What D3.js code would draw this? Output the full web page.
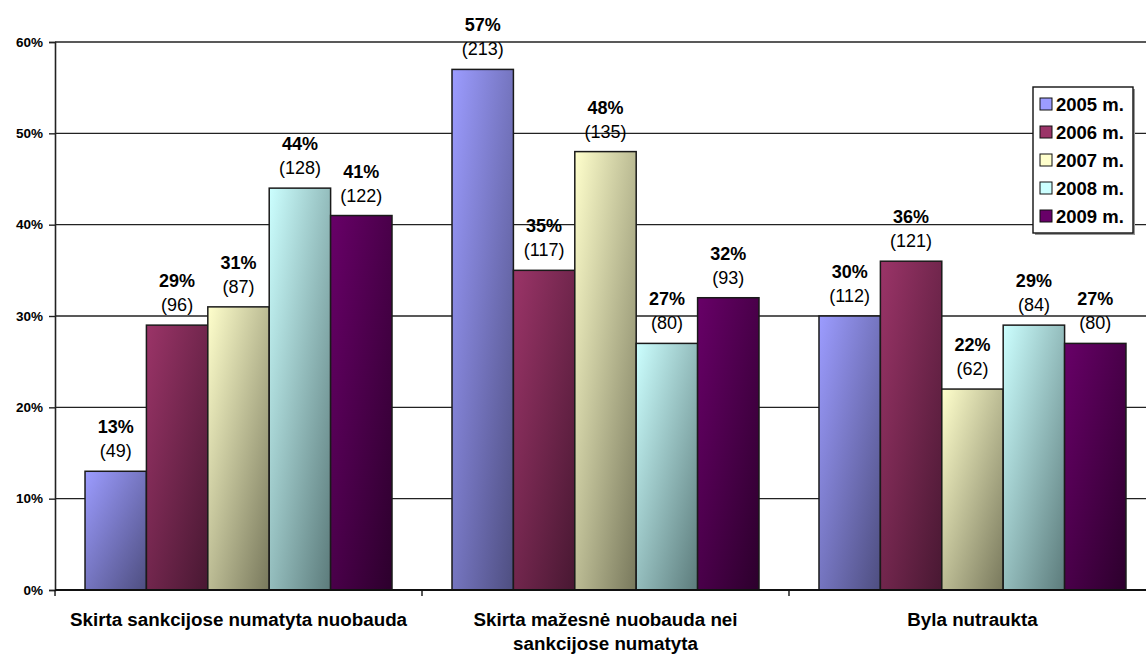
<!DOCTYPE html>
<html>
<head>
<meta charset="utf-8">
<script src="https://cdn.jsdelivr.net/npm/d3@7"></script>
<style>
  body { margin: 0; background: #fff; }
  text { font-family: Arial, "Liberation Sans", sans-serif; fill: #000; }
</style>
</head>
<body>
<div id="chart"></div>
<script>
// Data
let categories = [
  ["Skirta sankcijose numatyta nuobauda"],
  ["Skirta mažesnė nuobauda nei", "sankcijose numatyta"],
  ["Byla nutraukta"]
];
let years = ["2005 m.", "2006 m.", "2007 m.", "2008 m.", "2009 m."];
let percents = [
  [13, 29, 31, 44, 41],
  [57, 35, 48, 27, 32],
  [30, 36, 22, 29, 27]
];
let counts = [
  [49, 96, 87, 128, 122],
  [213, 117, 135, 80, 93],
  [112, 121, 62, 84, 80]
];
let yTicks = [0, 10, 20, 30, 40, 50, 60];

// colours: light / dark end of each gradient
let lightColors = ["#9c9cff", "#9b3468", "#ffffcc", "#ccffff", "#680068"];
let darkColors  = ["#4e4e80", "#481832", "#78785c", "#5c7b7b", "#2c002c"];

let W = 1146, H = 655;
let margin = { top: 42, left: 55, bottom: 65, right: -10 };
let plotBottom = H - margin.bottom;

let svg = d3.select("#chart").append("svg")
  .attr("width", W)
  .attr("height", H);

let defs = svg.append("defs");
years.forEach((yr, i) => {
  let g = defs.append("linearGradient")
    .attr("id", "grad" + i)
    .attr("x1", 0).attr("y1", 0).attr("x2", 1).attr("y2", 1);
  g.append("stop").attr("offset", "0%").attr("stop-color", lightColors[i]);
  g.append("stop").attr("offset", "100%").attr("stop-color", darkColors[i]);
});

// Scales
let x0 = d3.scaleBand()
  .domain(d3.range(categories.length))
  .range([margin.left, W - margin.right])
  .paddingInner(0.1635)
  .paddingOuter(0.0818);

let x1 = d3.scaleBand()
  .domain(d3.range(years.length))
  .range([0, x0.bandwidth()]);

let y = d3.scaleLinear()
  .domain([0, 60])
  .range([plotBottom, margin.top]);

// gridlines
svg.append("g")
  .selectAll("line")
  .data(yTicks.filter(d => d > 0))
  .join("line")
    .attr("x1", margin.left)
    .attr("x2", W)
    .attr("y1", d => y(d))
    .attr("y2", d => y(d))
    .attr("stroke", "#222")
    .attr("stroke-width", 1.4);

// y axis
let yAxis = d3.axisLeft(y)
  .tickValues(yTicks)
  .tickSize(6)
  .tickPadding(6)
  .tickFormat(d => d + "%");

let yAxisEl = svg.append("g")
  .attr("transform", "translate(" + margin.left + ",0)")
  .call(yAxis);
yAxisEl.select(".domain").attr("stroke", "#222").attr("stroke-width", 1.6);
yAxisEl.selectAll(".tick line").attr("stroke", "#222").attr("stroke-width", 1.4);
yAxisEl.selectAll(".tick text")
  .style("font-size", "13.5px")
  .style("font-weight", "bold")
  .attr("fill", "#111");

// bars
let groups = svg.append("g")
  .selectAll("g")
  .data(categories)
  .join("g")
  .attr("transform", (d, i) => "translate(" + x0(i) + ",0)");

groups.selectAll("rect")
  .data((d, ci) => percents[ci].map((v, si) => ({ ci, si, v })))
  .join("rect")
    .attr("x", d => x1(d.si))
    .attr("y", d => y(d.v))
    .attr("width", x1.bandwidth())
    .attr("height", d => y(0) - y(d.v))
    .attr("fill", d => "url(#grad" + d.si + ")")
    .attr("stroke", "#1a1a1a")
    .attr("stroke-width", 1.5);

// data labels
let labels = groups.selectAll("g.lbl")
  .data((d, ci) => percents[ci].map((v, si) => ({ ci, si, v, n: counts[ci][si] })))
  .join("g")
  .attr("class", "lbl")
  .attr("transform", d => "translate(" + (x1(d.si) + x1.bandwidth() / 2) + "," + y(d.v) + ")");

labels.append("text")
  .attr("text-anchor", "middle")
  .attr("y", -38)
  .style("font-size", "18px")
  .style("font-weight", "bold")
  .text(d => d.v + "%");

labels.append("text")
  .attr("text-anchor", "middle")
  .attr("y", -14)
  .style("font-size", "18px")
  .text(d => "(" + d.n + ")");

// x axis line
svg.append("line")
  .attr("x1", margin.left)
  .attr("x2", W)
  .attr("y1", plotBottom)
  .attr("y2", plotBottom)
  .attr("stroke", "#111")
  .attr("stroke-width", 2.2);

// category separators
let step = x0.step();
svg.append("g")
  .selectAll("line")
  .data(d3.range(categories.length + 1))
  .join("line")
    .attr("x1", i => x0(0) - x0.paddingInner() * step / 2 + i * step)
    .attr("x2", i => x0(0) - x0.paddingInner() * step / 2 + i * step)
    .attr("y1", plotBottom)
    .attr("y2", plotBottom + 6)
    .attr("stroke", "#111")
    .attr("stroke-width", 1.4);

// category labels
svg.append("g")
  .selectAll("text")
  .data(categories)
  .join("text")
    .attr("x", (d, i) => x0(i) + x0.bandwidth() / 2)
    .attr("y", 626)
    .attr("text-anchor", "middle")
    .style("font-size", "18.8px")
    .style("font-weight", "bold")
    .each(function(d) {
      d3.select(this).selectAll("tspan")
        .data(d)
        .join("tspan")
        .attr("x", d3.select(this).attr("x"))
        .attr("dy", (t, j) => j === 0 ? 0 : 24)
        .text(t => t);
    });

// legend
let legend = svg.append("g").attr("transform", "translate(1033,87)");
legend.append("rect")
  .attr("x", 2).attr("y", 2)
  .attr("width", 100).attr("height", 146)
  .attr("fill", "#999");
legend.append("rect")
  .attr("width", 100).attr("height", 146)
  .attr("fill", "#fff")
  .attr("stroke", "#111")
  .attr("stroke-width", 1.4);

let items = legend.selectAll("g.item")
  .data(years)
  .join("g")
  .attr("class", "item")
  .attr("transform", (d, i) => "translate(7," + (17 + i * 28) + ")");

items.append("rect")
  .attr("x", 0).attr("y", -6)
  .attr("width", 12).attr("height", 12)
  .attr("fill", (d, i) => lightColors[i])
  .attr("stroke", "#111")
  .attr("stroke-width", 1);

items.append("text")
  .attr("x", 16)
  .attr("y", 7)
  .style("font-size", "18.5px")
  .style("font-weight", "bold")
  .text(d => d);
</script>
</body>
</html>
